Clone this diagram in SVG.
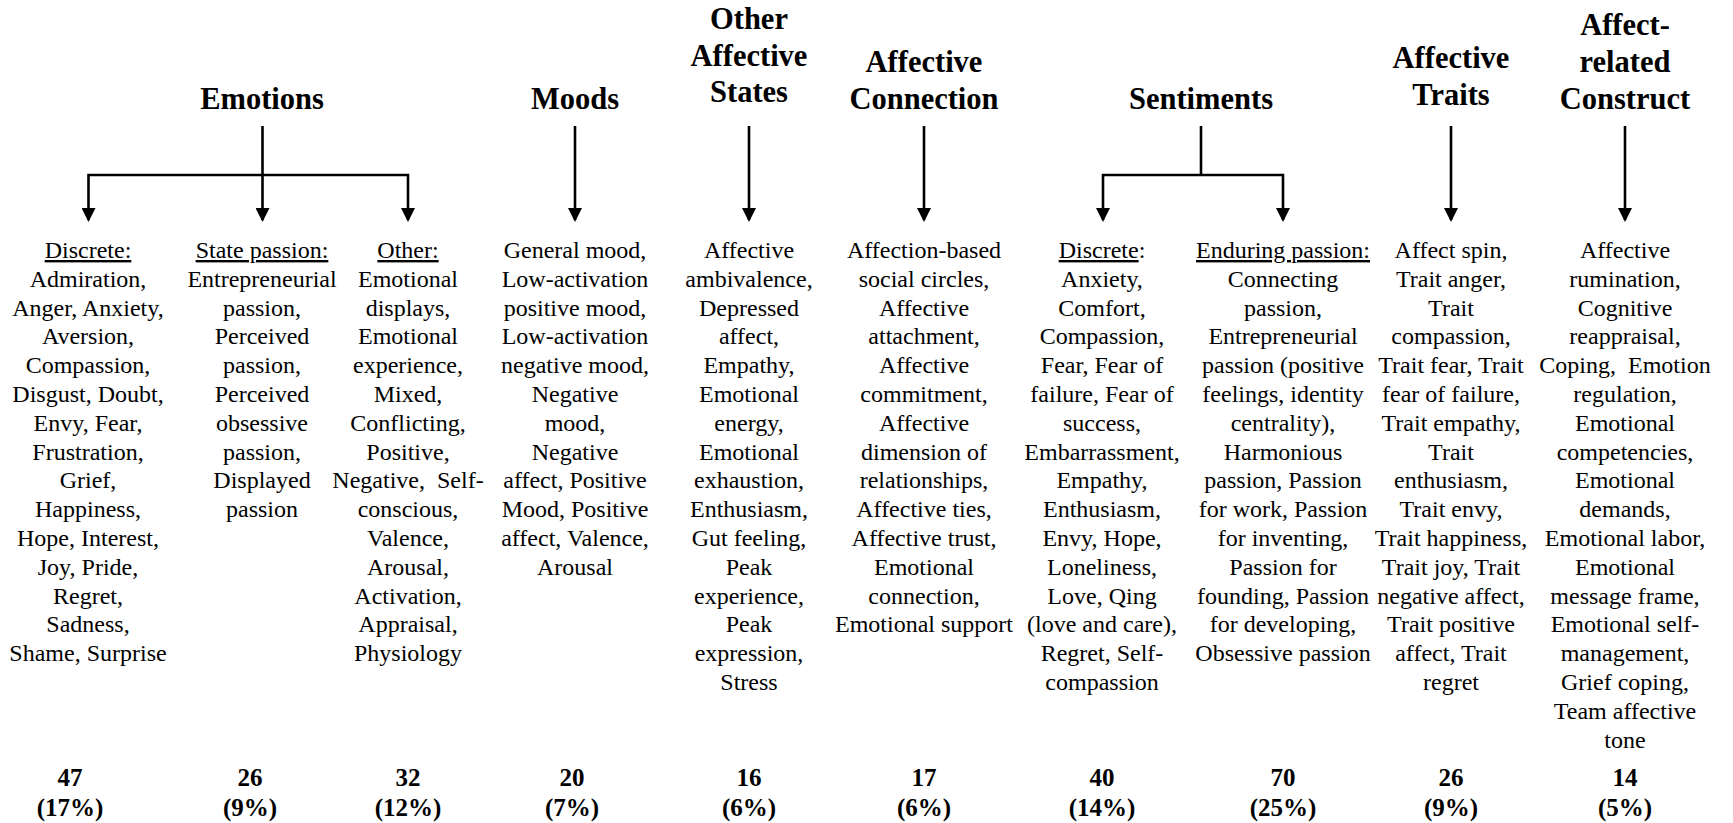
<svg xmlns="http://www.w3.org/2000/svg" width="1733" height="823" viewBox="0 0 1733 823">
<style>
  text { font-family: 'Liberation Serif', 'Times New Roman', Times, 'DejaVu Serif', serif; fill: #000; text-anchor: middle; }
  .hdr { font-weight: bold; font-size: 30.5px; }
  .body { font-size: 24px; }
  .num { font-weight: bold; font-size: 25px; }
  .u { text-decoration: underline; }
  .conn { fill: none; stroke: #000; stroke-width: 2.6; stroke-linejoin: miter; }
</style>
<defs>
  <marker id="arr" viewBox="0 0 14 14" refX="12" refY="7" markerWidth="14" markerHeight="14" markerUnits="userSpaceOnUse" orient="auto-start-reverse">
    <path d="M0,0 L14,7 L0,14 z" fill="#000"/>
  </marker>
</defs>
<rect width="1733" height="823" fill="#fff"/>

<g font-family="'Liberation Serif', 'Times New Roman', Times, 'DejaVu Serif', serif">
<!-- Header nodes -->
<g id="hdr-emotions"><text class="hdr" x="262" y="109">Emotions</text></g>
<g id="hdr-moods"><text class="hdr" x="575" y="109">Moods</text></g>
<g id="hdr-other-affective-states"><text class="hdr" x="749" y="29">Other<tspan x="749" dy="36.5">Affective</tspan><tspan x="749" dy="36.5">States</tspan></text></g>
<g id="hdr-affective-connection"><text class="hdr" x="924" y="72">Affective<tspan x="924" dy="37">Connection</tspan></text></g>
<g id="hdr-sentiments"><text class="hdr" x="1201" y="109">Sentiments</text></g>
<g id="hdr-affective-traits"><text class="hdr" x="1451" y="68">Affective<tspan x="1451" dy="37">Traits</tspan></text></g>
<g id="hdr-affect-related"><text class="hdr" x="1625" y="35">Affect-<tspan x="1625" dy="37">related</tspan><tspan x="1625" dy="37">Construct</tspan></text></g>

<!-- Connectors -->
<g id="connectors">
  <path class="conn" d="M262.5,126 V220" marker-end="url(#arr)"/>
  <path class="conn" d="M88.5,220 V175 H408 V220" marker-start="url(#arr)" marker-end="url(#arr)"/>
  <path class="conn" d="M575,126 V220" marker-end="url(#arr)"/>
  <path class="conn" d="M749,126 V220" marker-end="url(#arr)"/>
  <path class="conn" d="M924,126 V220" marker-end="url(#arr)"/>
  <path class="conn" d="M1201,126 V175"/>
  <path class="conn" d="M1103,220 V175 H1283 V220" marker-start="url(#arr)" marker-end="url(#arr)"/>
  <path class="conn" d="M1451,126 V220" marker-end="url(#arr)"/>
  <path class="conn" d="M1625,126 V220" marker-end="url(#arr)"/>
</g>

<!-- Item nodes -->
<g id="col-emotions-discrete">
  <text class="body" x="88" y="258"><tspan class="u">Discrete:</tspan><tspan x="88" dy="28.8">Admiration,</tspan><tspan x="88" dy="28.8">Anger, Anxiety,</tspan><tspan x="88" dy="28.8">Aversion,</tspan><tspan x="88" dy="28.8">Compassion,</tspan><tspan x="88" dy="28.8">Disgust, Doubt,</tspan><tspan x="88" dy="28.8">Envy, Fear,</tspan><tspan x="88" dy="28.8">Frustration,</tspan><tspan x="88" dy="28.8">Grief,</tspan><tspan x="88" dy="28.8">Happiness,</tspan><tspan x="88" dy="28.8">Hope, Interest,</tspan><tspan x="88" dy="28.8">Joy, Pride,</tspan><tspan x="88" dy="28.8">Regret,</tspan><tspan x="88" dy="28.8">Sadness,</tspan><tspan x="88" dy="28.8">Shame, Surprise</tspan></text>
  <text class="num" x="70" y="786">47<tspan x="70" dy="30">(17%)</tspan></text>
</g>
<g id="col-emotions-state-passion">
  <text class="body" x="262" y="258"><tspan class="u">State passion:</tspan><tspan x="262" dy="28.8">Entrepreneurial</tspan><tspan x="262" dy="28.8">passion,</tspan><tspan x="262" dy="28.8">Perceived</tspan><tspan x="262" dy="28.8">passion,</tspan><tspan x="262" dy="28.8">Perceived</tspan><tspan x="262" dy="28.8">obsessive</tspan><tspan x="262" dy="28.8">passion,</tspan><tspan x="262" dy="28.8">Displayed</tspan><tspan x="262" dy="28.8">passion</tspan></text>
  <text class="num" x="250" y="786">26<tspan x="250" dy="30">(9%)</tspan></text>
</g>
<g id="col-emotions-other">
  <text class="body" x="408" y="258"><tspan class="u">Other:</tspan><tspan x="408" dy="28.8">Emotional</tspan><tspan x="408" dy="28.8">displays,</tspan><tspan x="408" dy="28.8">Emotional</tspan><tspan x="408" dy="28.8">experience,</tspan><tspan x="408" dy="28.8">Mixed,</tspan><tspan x="408" dy="28.8">Conflicting,</tspan><tspan x="408" dy="28.8">Positive,</tspan><tspan x="408" dy="28.8" xml:space="preserve">Negative,  Self-</tspan><tspan x="408" dy="28.8">conscious,</tspan><tspan x="408" dy="28.8">Valence,</tspan><tspan x="408" dy="28.8">Arousal,</tspan><tspan x="408" dy="28.8">Activation,</tspan><tspan x="408" dy="28.8">Appraisal,</tspan><tspan x="408" dy="28.8">Physiology</tspan></text>
  <text class="num" x="408" y="786">32<tspan x="408" dy="30">(12%)</tspan></text>
</g>
<g id="col-moods">
  <text class="body" x="575" y="258">General mood,<tspan x="575" dy="28.8">Low-activation</tspan><tspan x="575" dy="28.8">positive mood,</tspan><tspan x="575" dy="28.8">Low-activation</tspan><tspan x="575" dy="28.8">negative mood,</tspan><tspan x="575" dy="28.8">Negative</tspan><tspan x="575" dy="28.8">mood,</tspan><tspan x="575" dy="28.8">Negative</tspan><tspan x="575" dy="28.8">affect, Positive</tspan><tspan x="575" dy="28.8">Mood, Positive</tspan><tspan x="575" dy="28.8">affect, Valence,</tspan><tspan x="575" dy="28.8">Arousal</tspan></text>
  <text class="num" x="572" y="786">20<tspan x="572" dy="30">(7%)</tspan></text>
</g>
<g id="col-other-affective-states">
  <text class="body" x="749" y="258">Affective<tspan x="749" dy="28.8">ambivalence,</tspan><tspan x="749" dy="28.8">Depressed</tspan><tspan x="749" dy="28.8">affect,</tspan><tspan x="749" dy="28.8">Empathy,</tspan><tspan x="749" dy="28.8">Emotional</tspan><tspan x="749" dy="28.8">energy,</tspan><tspan x="749" dy="28.8">Emotional</tspan><tspan x="749" dy="28.8">exhaustion,</tspan><tspan x="749" dy="28.8">Enthusiasm,</tspan><tspan x="749" dy="28.8">Gut feeling,</tspan><tspan x="749" dy="28.8">Peak</tspan><tspan x="749" dy="28.8">experience,</tspan><tspan x="749" dy="28.8">Peak</tspan><tspan x="749" dy="28.8">expression,</tspan><tspan x="749" dy="28.8">Stress</tspan></text>
  <text class="num" x="749" y="786">16<tspan x="749" dy="30">(6%)</tspan></text>
</g>
<g id="col-affective-connection">
  <text class="body" x="924" y="258">Affection-based<tspan x="924" dy="28.8">social circles,</tspan><tspan x="924" dy="28.8">Affective</tspan><tspan x="924" dy="28.8">attachment,</tspan><tspan x="924" dy="28.8">Affective</tspan><tspan x="924" dy="28.8">commitment,</tspan><tspan x="924" dy="28.8">Affective</tspan><tspan x="924" dy="28.8">dimension of</tspan><tspan x="924" dy="28.8">relationships,</tspan><tspan x="924" dy="28.8">Affective ties,</tspan><tspan x="924" dy="28.8">Affective trust,</tspan><tspan x="924" dy="28.8">Emotional</tspan><tspan x="924" dy="28.8">connection,</tspan><tspan x="924" dy="28.8">Emotional support</tspan></text>
  <text class="num" x="924" y="786">17<tspan x="924" dy="30">(6%)</tspan></text>
</g>
<g id="col-sentiments-discrete">
  <text class="body" x="1102" y="258"><tspan class="u">Discrete</tspan>:<tspan x="1102" dy="28.8">Anxiety,</tspan><tspan x="1102" dy="28.8">Comfort,</tspan><tspan x="1102" dy="28.8">Compassion,</tspan><tspan x="1102" dy="28.8">Fear, Fear of</tspan><tspan x="1102" dy="28.8">failure, Fear of</tspan><tspan x="1102" dy="28.8">success,</tspan><tspan x="1102" dy="28.8">Embarrassment,</tspan><tspan x="1102" dy="28.8">Empathy,</tspan><tspan x="1102" dy="28.8">Enthusiasm,</tspan><tspan x="1102" dy="28.8">Envy, Hope,</tspan><tspan x="1102" dy="28.8">Loneliness,</tspan><tspan x="1102" dy="28.8">Love, Qing</tspan><tspan x="1102" dy="28.8">(love and care),</tspan><tspan x="1102" dy="28.8">Regret, Self-</tspan><tspan x="1102" dy="28.8">compassion</tspan></text>
  <text class="num" x="1102" y="786">40<tspan x="1102" dy="30">(14%)</tspan></text>
</g>
<g id="col-sentiments-enduring-passion">
  <text class="body" x="1283" y="258"><tspan class="u">Enduring passion:</tspan><tspan x="1283" dy="28.8">Connecting</tspan><tspan x="1283" dy="28.8">passion,</tspan><tspan x="1283" dy="28.8">Entrepreneurial</tspan><tspan x="1283" dy="28.8">passion (positive</tspan><tspan x="1283" dy="28.8">feelings, identity</tspan><tspan x="1283" dy="28.8">centrality),</tspan><tspan x="1283" dy="28.8">Harmonious</tspan><tspan x="1283" dy="28.8">passion, Passion</tspan><tspan x="1283" dy="28.8">for work, Passion</tspan><tspan x="1283" dy="28.8">for inventing,</tspan><tspan x="1283" dy="28.8">Passion for</tspan><tspan x="1283" dy="28.8">founding, Passion</tspan><tspan x="1283" dy="28.8">for developing,</tspan><tspan x="1283" dy="28.8">Obsessive passion</tspan></text>
  <text class="num" x="1283" y="786">70<tspan x="1283" dy="30">(25%)</tspan></text>
</g>
<g id="col-affective-traits">
  <text class="body" x="1451" y="258">Affect spin,<tspan x="1451" dy="28.8">Trait anger,</tspan><tspan x="1451" dy="28.8">Trait</tspan><tspan x="1451" dy="28.8">compassion,</tspan><tspan x="1451" dy="28.8">Trait fear, Trait</tspan><tspan x="1451" dy="28.8">fear of failure,</tspan><tspan x="1451" dy="28.8">Trait empathy,</tspan><tspan x="1451" dy="28.8">Trait</tspan><tspan x="1451" dy="28.8">enthusiasm,</tspan><tspan x="1451" dy="28.8">Trait envy,</tspan><tspan x="1451" dy="28.8">Trait happiness,</tspan><tspan x="1451" dy="28.8">Trait joy, Trait</tspan><tspan x="1451" dy="28.8">negative affect,</tspan><tspan x="1451" dy="28.8">Trait positive</tspan><tspan x="1451" dy="28.8">affect, Trait</tspan><tspan x="1451" dy="28.8">regret</tspan></text>
  <text class="num" x="1451" y="786">26<tspan x="1451" dy="30">(9%)</tspan></text>
</g>
<g id="col-affect-related">
  <text class="body" x="1625" y="258">Affective<tspan x="1625" dy="28.8">rumination,</tspan><tspan x="1625" dy="28.8">Cognitive</tspan><tspan x="1625" dy="28.8">reappraisal,</tspan><tspan x="1625" dy="28.8" xml:space="preserve">Coping,  Emotion</tspan><tspan x="1625" dy="28.8">regulation,</tspan><tspan x="1625" dy="28.8">Emotional</tspan><tspan x="1625" dy="28.8">competencies,</tspan><tspan x="1625" dy="28.8">Emotional</tspan><tspan x="1625" dy="28.8">demands,</tspan><tspan x="1625" dy="28.8">Emotional labor,</tspan><tspan x="1625" dy="28.8">Emotional</tspan><tspan x="1625" dy="28.8">message frame,</tspan><tspan x="1625" dy="28.8">Emotional self-</tspan><tspan x="1625" dy="28.8">management,</tspan><tspan x="1625" dy="28.8">Grief coping,</tspan><tspan x="1625" dy="28.8">Team affective</tspan><tspan x="1625" dy="28.8">tone</tspan></text>
  <text class="num" x="1625" y="786">14<tspan x="1625" dy="30">(5%)</tspan></text>
</g>
</g>
</svg>
